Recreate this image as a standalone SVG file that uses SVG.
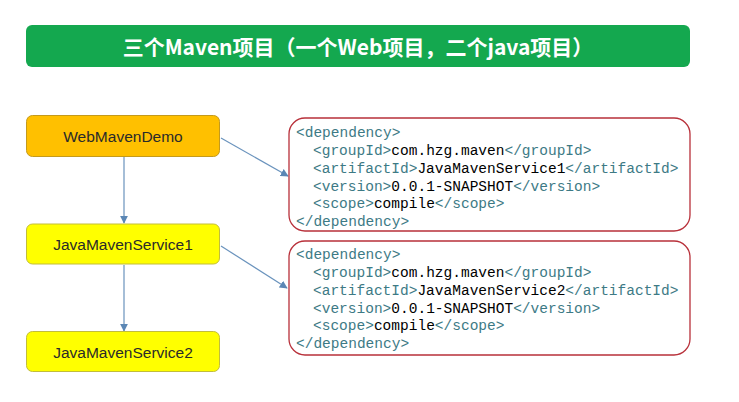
<svg xmlns="http://www.w3.org/2000/svg" width="739" height="402" viewBox="0 0 739 402">
<defs>
<style>
.node rect{stroke-width:1;}
.lbl{font-family:"Liberation Sans",Arial,sans-serif;font-size:15.5px;fill:#2a2a2a;text-anchor:middle;dominant-baseline:central;}
.code{font-family:"Liberation Mono","DejaVu Sans Mono",monospace;font-size:14.5px;fill:#3d7a85;}
.code .v{fill:#000;}
.cbox{fill:#fff;stroke:#b8303a;stroke-width:1.3;}
.conn line{stroke:#6a93bd;stroke-width:1.2;}
</style>
<marker id="ah" viewBox="0 0 10 10" refX="9" refY="5" markerWidth="8" markerHeight="8" markerUnits="userSpaceOnUse" orient="auto">
<path d="M0,0 L10,5 L0,10 Z" fill="#5b87b5"/>
</marker>
</defs>
<rect width="739" height="402" fill="#fff"/>
<g id="banner">
<rect x="26" y="25" width="664" height="42" rx="6" fill="#14a84f"/>
<text x="358" y="46" font-family="'Noto Sans CJK SC','Liberation Sans',sans-serif" font-size="21" font-weight="bold" fill="#fff" text-anchor="middle" dominant-baseline="central">三个Maven项目（一个Web项目，二个java项目）</text>
</g>
<g class="conn">
<line x1="124" y1="157" x2="124" y2="223" marker-end="url(#ah)"/>
<line x1="124" y1="265" x2="124" y2="331" marker-end="url(#ah)"/>
<line x1="221" y1="138" x2="288" y2="176" marker-end="url(#ah)"/>
<line x1="221" y1="246" x2="287" y2="288" marker-end="url(#ah)"/>
</g>
<g id="WebMavenDemo" class="node">
<rect x="26.5" y="115.5" width="193" height="41" rx="6" fill="#ffc000" stroke="#c49a1c"/>
<text class="lbl" x="123" y="136">WebMavenDemo</text>
</g>
<g id="JavaMavenService1" class="node">
<rect x="26.5" y="224" width="193" height="40" rx="6" fill="#ffff00" stroke="#c2bd3a"/>
<text class="lbl" x="123" y="244">JavaMavenService1</text>
</g>
<g id="JavaMavenService2" class="node">
<rect x="26.5" y="331.5" width="193" height="40" rx="6" fill="#ffff00" stroke="#c2bd3a"/>
<text class="lbl" x="123" y="352">JavaMavenService2</text>
</g>
<g id="dep1">
<rect class="cbox" x="289" y="118" width="401" height="113" rx="16"/>
<text class="code" x="296" y="137">&lt;dependency&gt;</text>
<text class="code" x="313" y="155">&lt;groupId&gt;<tspan class="v">com.hzg.maven</tspan>&lt;/groupId&gt;</text>
<text class="code" x="313" y="173">&lt;artifactId&gt;<tspan class="v">JavaMavenService1</tspan>&lt;/artifactId&gt;</text>
<text class="code" x="313" y="191">&lt;version&gt;<tspan class="v">0.0.1-SNAPSHOT</tspan>&lt;/version&gt;</text>
<text class="code" x="313" y="208">&lt;scope&gt;<tspan class="v">compile</tspan>&lt;/scope&gt;</text>
<text class="code" x="296" y="226">&lt;/dependency&gt;</text>
</g>
<g id="dep2">
<rect class="cbox" x="289" y="241" width="401" height="114" rx="16"/>
<text class="code" x="296" y="259">&lt;dependency&gt;</text>
<text class="code" x="313" y="277">&lt;groupId&gt;<tspan class="v">com.hzg.maven</tspan>&lt;/groupId&gt;</text>
<text class="code" x="313" y="295">&lt;artifactId&gt;<tspan class="v">JavaMavenService2</tspan>&lt;/artifactId&gt;</text>
<text class="code" x="313" y="313">&lt;version&gt;<tspan class="v">0.0.1-SNAPSHOT</tspan>&lt;/version&gt;</text>
<text class="code" x="313" y="330">&lt;scope&gt;<tspan class="v">compile</tspan>&lt;/scope&gt;</text>
<text class="code" x="296" y="348">&lt;/dependency&gt;</text>
</g>
</svg>
